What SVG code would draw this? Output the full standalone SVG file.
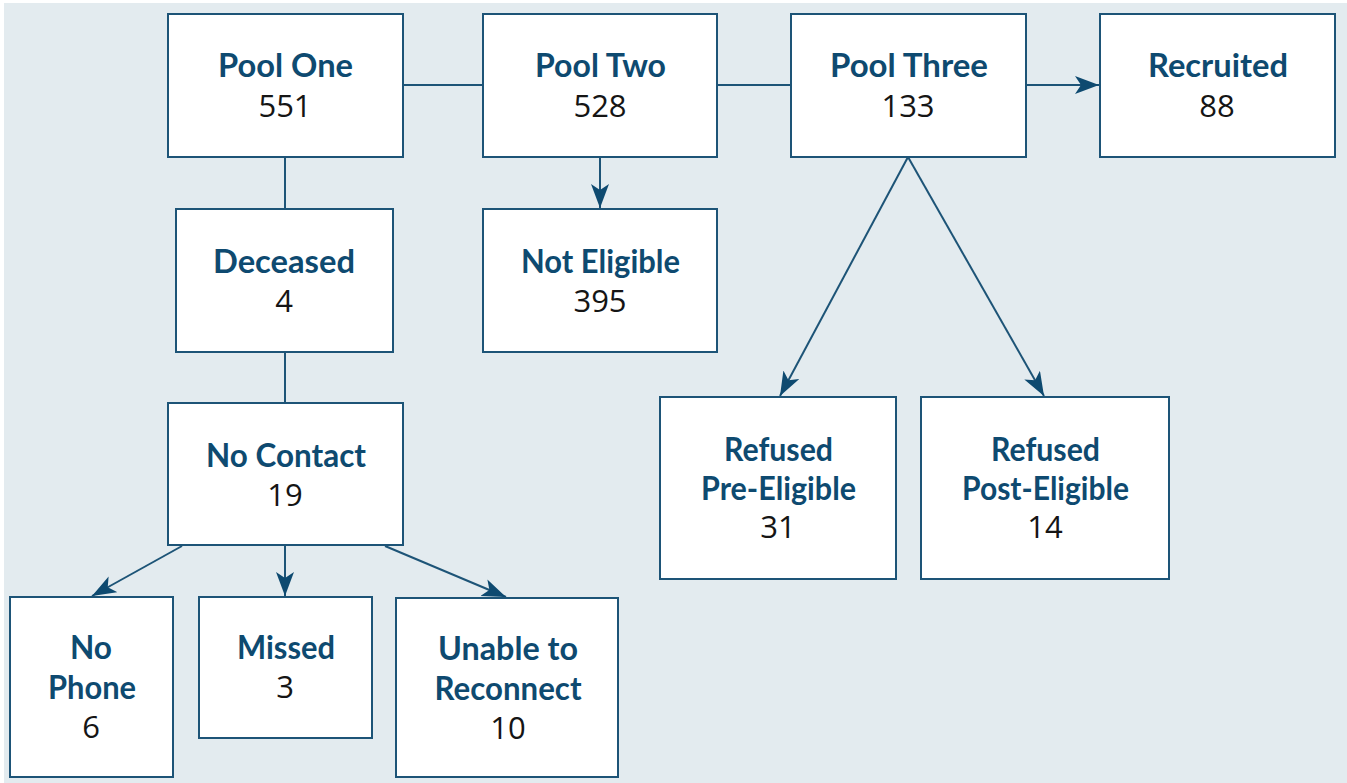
<svg xmlns="http://www.w3.org/2000/svg" width="1347" height="783" viewBox="0 0 1347 783">
<style>
.box{fill:#ffffff;stroke:#1d5477;stroke-width:2}
.t{font-family:Lato,"Open Sans",sans-serif;font-weight:bold;font-size:32px;fill:#0e4a70;text-anchor:middle}
.n{font-family:"Open Sans","Noto Sans",sans-serif;font-size:31px;fill:#151515;text-anchor:middle}
.c{fill:none;stroke:#1d5477;stroke-width:2}
</style>
<defs>
<marker id="ah" markerUnits="userSpaceOnUse" markerWidth="26" markerHeight="20" refX="24" refY="9" orient="auto" viewBox="0 0 26 20">
<path d="M0,0 L24,9 L0,18 L6,9 Z" fill="#0e4a70"/>
</marker>
</defs>
<rect x="4" y="3" width="1343" height="780" fill="#e3ebef"/>
<g id="connectors">
<line class="c" x1="403" y1="85" x2="483" y2="85"/>
<line class="c" x1="717" y1="85" x2="791" y2="85"/>
<line class="c" x1="1026" y1="85" x2="1099" y2="85" marker-end="url(#ah)"/>
<line class="c" x1="285" y1="157" x2="285" y2="209"/>
<line class="c" x1="285" y1="352" x2="285" y2="403"/>
<line class="c" x1="600" y1="157" x2="600" y2="208" marker-end="url(#ah)"/>
<line class="c" x1="908" y1="157" x2="780" y2="396" marker-end="url(#ah)"/>
<line class="c" x1="908" y1="157" x2="1044" y2="396" marker-end="url(#ah)"/>
<line class="c" x1="182" y1="546" x2="92" y2="596" marker-end="url(#ah)"/>
<line class="c" x1="285" y1="546" x2="285" y2="596" marker-end="url(#ah)"/>
<line class="c" x1="385" y1="546" x2="506" y2="597" marker-end="url(#ah)"/>
</g>
<g id="pool-one">
<rect class="box" x="168" y="14" width="235" height="143"/>
<text class="t" x="285.5" y="77" textLength="135" lengthAdjust="spacingAndGlyphs">Pool One</text>
<text class="n" x="285" y="117">551</text>
</g>
<g id="pool-two">
<rect class="box" x="483" y="14" width="234" height="143"/>
<text class="t" x="600.5" y="77" textLength="131" lengthAdjust="spacingAndGlyphs">Pool Two</text>
<text class="n" x="600" y="117">528</text>
</g>
<g id="pool-three">
<rect class="box" x="791" y="14" width="235" height="143"/>
<text class="t" x="909" y="77" textLength="158" lengthAdjust="spacingAndGlyphs">Pool Three</text>
<text class="n" x="908" y="117">133</text>
</g>
<g id="recruited">
<rect class="box" x="1100" y="14" width="235" height="143"/>
<text class="t" x="1218" y="77" textLength="140" lengthAdjust="spacingAndGlyphs">Recruited</text>
<text class="n" x="1217" y="117">88</text>
</g>
<g id="deceased">
<rect class="box" x="176" y="209" width="217" height="143"/>
<text class="t" x="284" y="273" textLength="142" lengthAdjust="spacingAndGlyphs">Deceased</text>
<text class="n" x="284" y="312">4</text>
</g>
<g id="not-eligible">
<rect class="box" x="483" y="209" width="234" height="143"/>
<text class="t" x="600.5" y="273" textLength="159" lengthAdjust="spacingAndGlyphs">Not Eligible</text>
<text class="n" x="600" y="312">395</text>
</g>
<g id="no-contact">
<rect class="box" x="168" y="403" width="235" height="142"/>
<text class="t" x="286" y="467" textLength="160" lengthAdjust="spacingAndGlyphs">No Contact</text>
<text class="n" x="285" y="506">19</text>
</g>
<g id="refused-pre-eligible">
<rect class="box" x="660" y="397" width="236" height="182"/>
<text class="t" x="778.5" y="461" textLength="109" lengthAdjust="spacingAndGlyphs">Refused</text>
<text class="t" x="778.5" y="500" textLength="155" lengthAdjust="spacingAndGlyphs">Pre-Eligible</text>
<text class="n" x="778" y="538">31</text>
</g>
<g id="refused-post-eligible">
<rect class="box" x="921" y="397" width="248" height="182"/>
<text class="t" x="1045.5" y="461" textLength="109" lengthAdjust="spacingAndGlyphs">Refused</text>
<text class="t" x="1045.5" y="500" textLength="167" lengthAdjust="spacingAndGlyphs">Post-Eligible</text>
<text class="n" x="1045" y="538">14</text>
</g>
<g id="no-phone">
<rect class="box" x="10" y="597" width="163" height="180"/>
<text class="t" x="91" y="659" textLength="42" lengthAdjust="spacingAndGlyphs">No</text>
<text class="t" x="92" y="699" textLength="88" lengthAdjust="spacingAndGlyphs">Phone</text>
<text class="n" x="91" y="738">6</text>
</g>
<g id="missed">
<rect class="box" x="199" y="597" width="173" height="141"/>
<text class="t" x="286" y="659" textLength="98" lengthAdjust="spacingAndGlyphs">Missed</text>
<text class="n" x="285" y="698">3</text>
</g>
<g id="unable-to-reconnect">
<rect class="box" x="396" y="598" width="222" height="179"/>
<text class="t" x="508" y="660" textLength="140" lengthAdjust="spacingAndGlyphs">Unable to</text>
<text class="t" x="508" y="700" textLength="147" lengthAdjust="spacingAndGlyphs">Reconnect</text>
<text class="n" x="508" y="739">10</text>
</g>
</svg>
